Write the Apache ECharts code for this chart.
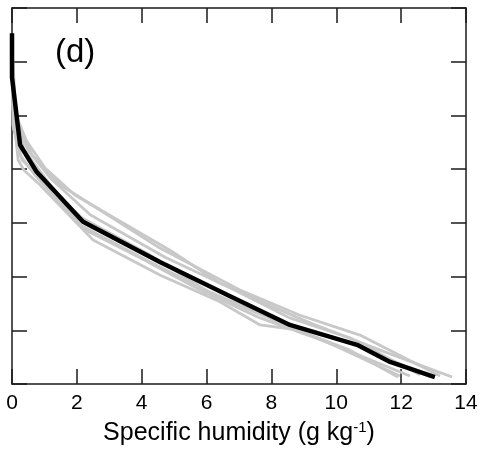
<!DOCTYPE html>
<html>
<head>
<meta charset="utf-8">
<style>html,body{margin:0;padding:0;background:#fff;}#c{width:484px;height:453px;}</style>
<script src="https://cdn.jsdelivr.net/npm/echarts@6/dist/echarts.min.js"></script>
</head>
<body>
<div id="c"></div>
<script>
// Mean profile (black)
const meanQ = [0, 0, 0.25, 0.76, 2.19, 4.56, 6.63, 8.57, 10.64, 11.66, 13.04];
const meanZ = [6.53, 5.71, 4.45, 3.95, 3.02, 2.27, 1.66, 1.10, 0.73, 0.41, 0.13];

// Individual profiles (grey)
const qA = [0, 0.03, 0.43, 1.02, 1.94, 4.87, 6.41, 8.26, 9.19, 11.35, 13.57];
const zA = [6.40, 5.10, 4.54, 4.02, 3.52, 2.49, 1.88, 1.38, 1.14, 0.63, 0.13];
const qB = [0, 0.06, 0.19, 0.37, 0.86, 2.50, 4.56, 6.41, 7.65, 8.79, 10.42, 11.90];
const zB = [6.03, 4.92, 4.17, 3.98, 3.71, 2.68, 2.03, 1.53, 1.10, 1.01, 0.63, 0.13];
const qC = [0, 0.09, 0.49, 1.17, 2.41, 4.72, 6.72, 8.57, 10.42, 12.58];
const zC = [6.22, 4.92, 4.36, 3.84, 3.15, 2.36, 1.79, 1.23, 0.86, 0.17];
const qD = [0, 0.12, 0.62, 1.48, 2.71, 4.56, 7.03, 8.88, 10.73, 13.20];
const zD = [6.31, 5.01, 4.26, 3.71, 3.24, 2.53, 1.75, 1.28, 0.91, 0.15];
const qE = [0, 0.03, 0.25, 0.71, 2.25, 3.95, 5.80, 7.65, 9.81, 12.27];
const zE = [6.13, 4.82, 4.26, 3.89, 2.87, 2.35, 1.75, 1.23, 0.76, 0.15];
const qF = [0, 0.06, 0.37, 1.02, 2.10, 4.26, 6.11, 8.26, 10.42, 12.89];
const zF = [6.40, 5.10, 4.36, 3.84, 2.96, 2.27, 1.71, 1.15, 0.78, 0.13];
const qG = [0, 0.06, 0.31, 0.93, 2.16, 4.26, 6.26, 8.11, 10.11, 11.96];
const zG = [5.85, 4.73, 4.17, 3.80, 3.09, 2.40, 1.64, 1.19, 0.67, 0.15];

const xTicks = [0, 2, 4, 6, 8, 10, 12, 14];
const yTicks = [0, 1, 2, 3, 4, 5, 6, 7];

const greys = [[qA, zA], [qB, zB], [qC, zC], [qD, zD], [qE, zE], [qF, zF], [qG, zG]];
const pairs = (q, z) => q.map((v, i) => [v, z[i]]);

const font = 'Liberation Sans, Arial, sans-serif';
const axisLine = { show: true, onZero: false, lineStyle: { color: '#1a1a1a', width: 1.5 } };
const tick = { show: true, inside: true, length: 15, lineStyle: { color: '#1a1a1a', width: 1.5 } };

const series = greys.map(([q, z]) => ({
  type: 'line', data: pairs(q, z), showSymbol: false, silent: true,
  lineStyle: { color: '#c8c8c8', width: 2.8 }, z: 2
}));
series.push({
  type: 'line', data: pairs(meanQ, meanZ), showSymbol: false, silent: true,
  lineStyle: { color: '#000', width: 4.5 }, z: 3
});

const chart = echarts.init(document.getElementById('c'));
chart.setOption({
  animation: false,
  backgroundColor: '#fff',
  grid: { left: 12, right: 18, top: 8, bottom: 69 },
  xAxis: [
    {
      type: 'value', min: xTicks[0], max: xTicks[xTicks.length - 1], interval: 2,
      position: 'bottom', axisLine, axisTick: tick, splitLine: { show: false },
      axisLabel: { color: '#000', fontSize: 21, fontFamily: font, margin: 9 },
      name: '{a|Specific humidity (g kg}{s|-1}{a|)}', nameLocation: 'middle', nameGap: 36,
      nameTextStyle: {
        fontSize: 25, fontFamily: font, color: '#000',
        rich: {
          a: { fontSize: 25, fontFamily: font, color: '#000' },
          s: { fontSize: 15, fontFamily: font, color: '#000', padding: [0, 0, 11, 0] }
        }
      }
    },
    {
      type: 'value', min: xTicks[0], max: xTicks[xTicks.length - 1], interval: 2,
      position: 'top', axisLine, axisTick: tick, splitLine: { show: false },
      axisLabel: { show: false }
    }
  ],
  yAxis: [
    {
      type: 'value', min: yTicks[0], max: yTicks[yTicks.length - 1], interval: 1,
      position: 'left', axisLine, axisTick: tick, splitLine: { show: false },
      axisLabel: { show: false }
    },
    {
      type: 'value', min: yTicks[0], max: yTicks[yTicks.length - 1], interval: 1,
      position: 'right', axisLine, axisTick: tick, splitLine: { show: false },
      axisLabel: { show: false }
    }
  ],
  graphic: [{
    type: 'text', left: 55, top: 36,
    style: { text: '(d)', fontSize: 33, fontFamily: font, fill: '#000' }
  }],
  series
});
</script>
</body>
</html>
